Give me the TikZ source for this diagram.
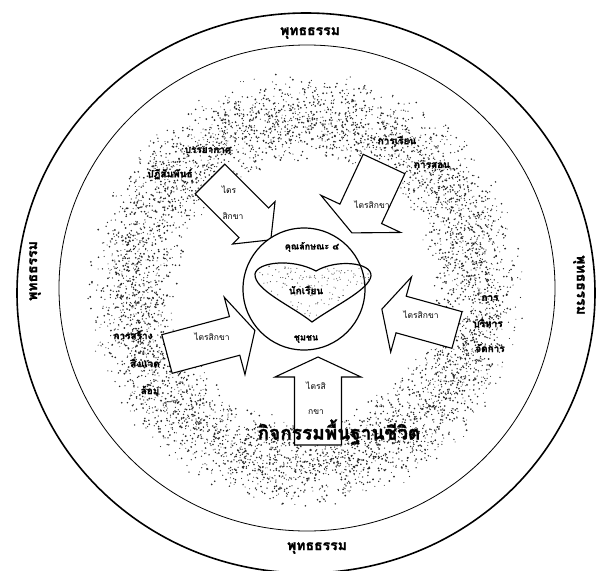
\documentclass[tikz,border=0pt]{standalone}
\usepackage{fontspec}
\newfontfamily\thai[Script=Thai, BoldFeatures={FakeBold=1.5}]{Loma}
\newcommand\blockarrow[7]{%
  \begin{scope}[shift={(#1,#2)}, rotate=#3]
    \draw[blockarr] (0,-#4) -- (#5,-#4) -- (#5,-#6) -- (#7,0) -- (#5,#6) -- (#5,#4) -- (0,#4) -- cycle;
  \end{scope}}
\begin{document}
\begin{tikzpicture}[x=1pt,y=-1pt,
  lbl/.style={font=\thai\bfseries\fontsize{10}{11}\selectfont, inner sep=0pt},
  outerlbl/.style={font=\thai\bfseries\fontsize{14}{15}\selectfont, inner sep=0pt},
  arrowtxt/.style={font=\thai\fontsize{8.5}{10}\selectfont, inner sep=0pt},
  blockarr/.style={draw=black, fill=white, line width=1.1pt, line join=miter},
  speck/.style={fill=black!85},
]
\useasboundingbox (0,0) rectangle (599,570);
\fill[white] (0,0) rectangle (599,570);

% outer rings
\draw[line width=1.6pt] (306,293) ellipse [x radius=289pt, y radius=280pt];
\draw[line width=0.8pt] (307,288) ellipse [x radius=248pt, y radius=243pt];

% stippled ring
\pgfmathsetseed{12}
\foreach \i in {1,...,6000}{
  \pgfmathsetmacro\ang{360*rnd}
  \pgfmathsetmacro\rad{126+94*(rnd+rnd)/2}
  \pgfmathsetmacro\dr{0.45+0.55*rnd}
  \fill[speck] ({305+\rad*cos(\ang)},{290+\rad*sin(\ang)}) circle[radius=\dr pt];
}

% outer labels
\node[outerlbl] (top) at (310,33) {พุทธธรรม};
\node[outerlbl] (bottom) at (317,548) {พุทธธรรม};
\node[outerlbl, rotate=90] (left) at (35,271) {พุทธธรรม};
\node[outerlbl, rotate=-90] (right) at (579,285) {พุทธธรรม};

% block arrows
\blockarrow{210}{179}{-45}{21}{62}{30}{86}
\blockarrow{384}{164}{-115}{23}{55}{44}{76}
\blockarrow{167}{354}{15}{20}{70}{40}{91}
\blockarrow{457}{330}{164.5}{19}{58}{39}{78}
\blockarrow{318}{445}{90}{23.5}{68}{43}{88}

% center circle
\draw[line width=1.2pt, fill=white] (304,289) circle[radius=61pt];
\begin{scope}
  \clip (312,322) .. controls (292,306) and (254,290) .. (255,274) .. controls (257,262) and (292,258) .. (316,271) .. controls (336,259) and (372,262) .. (371,276) .. controls (369,290) and (334,306) .. (312,322) -- cycle;
  \foreach \i in {1,...,260}{
    \pgfmathsetmacro\px{255+117*rnd}
    \pgfmathsetmacro\py{258+64*rnd}
    \fill[black!70] (\px,\py) circle[radius=0.55pt];
  }
\end{scope}
\draw[line width=1.2pt] (312,322) .. controls (292,306) and (254,290) .. (255,274) .. controls (257,262) and (292,258) .. (316,271) .. controls (336,259) and (372,262) .. (371,276) .. controls (369,290) and (334,306) .. (312,322) -- cycle;

\node[lbl, font=\thai\bfseries\fontsize{9}{10}\selectfont] (qual) at (312,247) {คุณลักษณะ ๔};
\node[lbl] (student) at (306,290) {นักเรียน};
\node[lbl, font=\thai\bfseries\fontsize{9}{10}\selectfont] (comm) at (306,339) {ชุมชน};

% arrow texts
\node[arrowtxt] (ul1) at (229,190) {ไตร};
\node[arrowtxt] (ul2) at (233,216) {สิกขา};
\node[arrowtxt] (ur) at (372,205) {ไตรสิกขา};
\node[arrowtxt] (lt) at (212,337) {ไตรสิกขา};
\node[arrowtxt] (rt) at (421,315) {ไตรสิกขา};
\node[arrowtxt] (b1) at (316,386) {ไตรสิ};
\node[arrowtxt] (b2) at (316,412) {กขา};

% ring labels
\node[lbl] (a1) at (208,150) {บรรยากาศ};
\node[lbl] (a2) at (170,174) {ปฏิสัมพันธ์};
\node[lbl] (b1l) at (397,140) {การเรียน};
\node[lbl] (b2l) at (432,165) {การสอน};
\node[lbl] (c1) at (133,335) {การสร้าง};
\node[lbl] (c2) at (145,362) {สิ่งแวด};
\node[lbl] (c3) at (150,390) {ล้อม};
\node[lbl] (d1) at (490,298) {การ};
\node[lbl] (d2) at (488,323) {บริหาร};
\node[lbl] (d3) at (490,348) {จัดการ};
\node[lbl, font=\thai\bfseries\fontsize{19}{20}\selectfont] (life) at (339,432) {กิจกรรมพื้นฐานชีวิต};
\end{tikzpicture}
\end{document}
